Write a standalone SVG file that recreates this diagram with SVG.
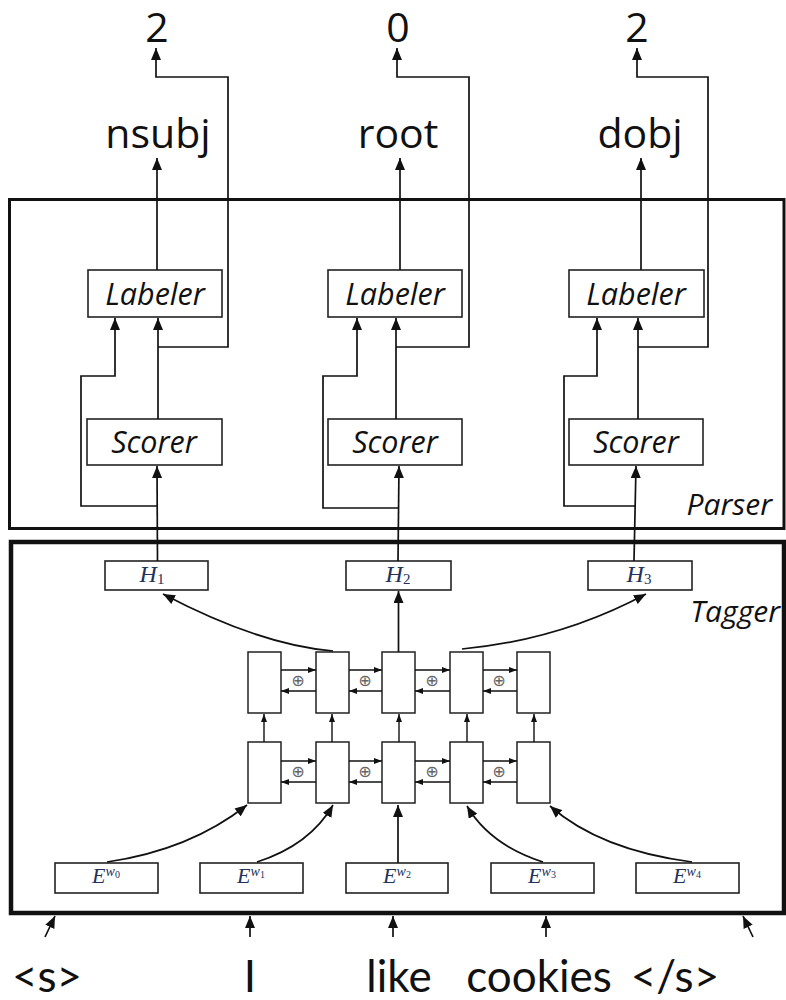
<svg xmlns="http://www.w3.org/2000/svg" width="786" height="1000" viewBox="0 0 786 1000">
  <style>
    .frame { fill: none; stroke: #111; }
    .box { fill: #fff; stroke: #222; stroke-width: 1.6; }
    .cell { fill: #fff; stroke: #222; stroke-width: 1.5; }
    .wire { fill: none; stroke: #111; stroke-width: 1.7; }
    .thin { fill: none; stroke: #111; stroke-width: 1.4; }
    .head { font-family: "Open Sans", "DejaVu Sans", sans-serif; font-size: 41px; fill: #111; text-anchor: middle; }
    .mod { font-family: "Open Sans", "DejaVu Sans", sans-serif; font-style: italic; font-size: 30.5px; fill: #111; text-anchor: middle; }
    .tag { font-family: "Open Sans", "DejaVu Sans", sans-serif; font-style: italic; font-size: 30px; fill: #111; text-anchor: end; }
    .math { font-family: "Liberation Serif", "DejaVu Serif", serif; font-style: italic; fill: #22325a; text-anchor: middle; }
    .word { font-family: Lato, "Open Sans", sans-serif; font-size: 44px; fill: #111; text-anchor: middle; }
    .oplus { font-family: "DejaVu Sans", sans-serif; font-size: 16px; fill: #666; text-anchor: middle; }
  </style>
  <defs>
    <marker id="ah" viewBox="0 0 12 10" refX="12" refY="5" markerWidth="12" markerHeight="10" orient="auto" markerUnits="userSpaceOnUse">
      <path d="M0,0 L12,5 L0,10 z" fill="#111"/>
    </marker>
    <marker id="ahs" viewBox="0 0 8 6" refX="8" refY="3" markerWidth="8" markerHeight="6" orient="auto" markerUnits="userSpaceOnUse">
      <path d="M0,0 L8,3 L0,6 z" fill="#111"/>
    </marker>
  </defs>

  <!-- outer frames -->
  <g id="parser">
    <rect class="frame" x="9.5" y="199.5" width="774.5" height="329" stroke-width="3"/>
    <text class="tag" x="772" y="515">Parser</text>
  </g>
  <g id="tagger">
    <rect class="frame" x="11" y="542" width="773" height="371" stroke-width="4.5"/>
    <text class="tag" x="780" y="622">Tagger</text>
  </g>

  <!-- head indices and relation labels -->
  <g id="heads">
    <text class="head" x="157" y="42">2</text>
    <text class="head" x="398" y="42">0</text>
    <text class="head" x="637" y="42">2</text>
  </g>
  <g id="relations">
    <text class="head" x="158" y="148">nsubj</text>
    <text class="head" x="398" y="148">root</text>
    <text class="head" x="640" y="148">dobj</text>
  </g>

  <!-- parser modules -->
  <g id="labeler1"><rect class="box" x="88" y="270" width="134" height="47"/><text class="mod" x="155" y="305">Labeler</text></g>
  <g id="labeler2"><rect class="box" x="328" y="270" width="134" height="47"/><text class="mod" x="395" y="305">Labeler</text></g>
  <g id="labeler3"><rect class="box" x="569" y="270" width="135" height="47"/><text class="mod" x="636" y="305">Labeler</text></g>
  <g id="scorer1"><rect class="box" x="87" y="419" width="135" height="46"/><text class="mod" x="154" y="453">Scorer</text></g>
  <g id="scorer2"><rect class="box" x="328" y="419" width="134" height="46"/><text class="mod" x="395" y="453">Scorer</text></g>
  <g id="scorer3"><rect class="box" x="569" y="419" width="134" height="46"/><text class="mod" x="636" y="453">Scorer</text></g>

  <!-- tagger outputs -->
  <g id="h1"><rect class="box" x="105" y="561" width="103" height="29"/><text class="math" x="152" y="582" font-size="24">H<tspan font-size="15" font-style="normal" dy="2">1</tspan></text></g>
  <g id="h2"><rect class="box" x="346" y="561" width="105" height="29"/><text class="math" x="398" y="582" font-size="24">H<tspan font-size="15" font-style="normal" dy="2">2</tspan></text></g>
  <g id="h3"><rect class="box" x="588" y="561" width="104" height="29"/><text class="math" x="639" y="582" font-size="24">H<tspan font-size="15" font-style="normal" dy="2">3</tspan></text></g>

  <!-- stacked BiLSTM cells -->
  <g id="lstm-top">
    <rect class="cell" x="248" y="652" width="33" height="61"/>
    <rect class="cell" x="316" y="652" width="33" height="61"/>
    <rect class="cell" x="382" y="652" width="33" height="61"/>
    <rect class="cell" x="450" y="652" width="33" height="61"/>
    <rect class="cell" x="517" y="652" width="33" height="61"/>
  </g>
  <g id="lstm-bottom">
    <rect class="cell" x="248" y="742" width="33" height="61"/>
    <rect class="cell" x="316" y="742" width="33" height="61"/>
    <rect class="cell" x="382" y="742" width="33" height="61"/>
    <rect class="cell" x="450" y="742" width="33" height="61"/>
    <rect class="cell" x="517" y="742" width="33" height="61"/>
  </g>
  <g id="concat">
    <text class="oplus" x="298" y="686">⊕</text>
    <text class="oplus" x="365" y="686">⊕</text>
    <text class="oplus" x="432" y="686">⊕</text>
    <text class="oplus" x="499" y="686">⊕</text>
    <text class="oplus" x="298" y="777">⊕</text>
    <text class="oplus" x="365" y="777">⊕</text>
    <text class="oplus" x="432" y="777">⊕</text>
    <text class="oplus" x="499" y="777">⊕</text>
  </g>

  <!-- word embeddings -->
  <g id="e0"><rect class="box" x="55" y="863" width="103" height="30"/><text class="math" x="106" y="883" font-size="22">E<tspan font-size="14" dy="-7">w</tspan><tspan font-size="10" font-style="normal" dy="2">0</tspan></text></g>
  <g id="e1"><rect class="box" x="200" y="863" width="103" height="30"/><text class="math" x="251" y="883" font-size="22">E<tspan font-size="14" dy="-7">w</tspan><tspan font-size="10" font-style="normal" dy="2">1</tspan></text></g>
  <g id="e2"><rect class="box" x="346" y="863" width="102" height="30"/><text class="math" x="397" y="883" font-size="22">E<tspan font-size="14" dy="-7">w</tspan><tspan font-size="10" font-style="normal" dy="2">2</tspan></text></g>
  <g id="e3"><rect class="box" x="491" y="863" width="103" height="30"/><text class="math" x="542" y="883" font-size="22">E<tspan font-size="14" dy="-7">w</tspan><tspan font-size="10" font-style="normal" dy="2">3</tspan></text></g>
  <g id="e4"><rect class="box" x="636" y="863" width="103" height="30"/><text class="math" x="687" y="883" font-size="22">E<tspan font-size="14" dy="-7">w</tspan><tspan font-size="10" font-style="normal" dy="2">4</tspan></text></g>

  <!-- input tokens -->
  <g id="tokens">
    <text class="word" x="47" y="992">&lt;s&gt;</text>
    <text class="word" x="250" y="992">I</text>
    <text class="word" x="399" y="992">like</text>
    <text class="word" x="539" y="992">cookies</text>
    <text class="word" x="675" y="992">&lt;/s&gt;</text>
  </g>

  <g id="connectors">
    <!-- labeler to relation label -->
    <path class="wire" d="M157 270 V158" marker-end="url(#ah)"/>
    <path class="wire" d="M400 270 V158" marker-end="url(#ah)"/>
    <path class="wire" d="M641 270 V158" marker-end="url(#ah)"/>
    <!-- scorer to labeler, with branch to head index -->
    <path class="wire" d="M158 419 V318" marker-end="url(#ah)"/>
    <path class="wire" d="M158 347 H228 V77 H156 V48" marker-end="url(#ah)"/>
    <path class="wire" d="M396 419 V318" marker-end="url(#ah)"/>
    <path class="wire" d="M396 347 H469 V77 H397 V48" marker-end="url(#ah)"/>
    <path class="wire" d="M638 419 V318" marker-end="url(#ah)"/>
    <path class="wire" d="M638 347 H708 V77 H637 V48" marker-end="url(#ah)"/>
    <!-- tagger state to scorer, with skip to labeler -->
    <path class="wire" d="M157.5 561 L157 466" marker-end="url(#ah)"/>
    <path class="wire" d="M157 506 H81 V376 H115 V318" marker-end="url(#ah)"/>
    <path class="wire" d="M398 561 L399 466" marker-end="url(#ah)"/>
    <path class="wire" d="M399 508 H323 V376 H357 V318" marker-end="url(#ah)"/>
    <path class="wire" d="M634 561 L636 466" marker-end="url(#ah)"/>
    <path class="wire" d="M636 506 H564 V376 H597 V318" marker-end="url(#ah)"/>
    <!-- BiLSTM top layer to outputs -->
    <path class="wire" d="M333 651 Q260 645 163 594" marker-end="url(#ah)"/>
    <path class="wire" d="M398.5 652 V591" marker-end="url(#ah)"/>
    <path class="wire" d="M462 649 Q560 640 646 594" marker-end="url(#ah)"/>
    <!-- recurrent links, top layer -->
    <path class="thin" d="M281 670 H316" marker-end="url(#ahs)"/>
    <path class="thin" d="M316 691 H281" marker-end="url(#ahs)"/>
    <path class="thin" d="M349 670 H382" marker-end="url(#ahs)"/>
    <path class="thin" d="M382 691 H349" marker-end="url(#ahs)"/>
    <path class="thin" d="M415 670 H450" marker-end="url(#ahs)"/>
    <path class="thin" d="M450 691 H415" marker-end="url(#ahs)"/>
    <path class="thin" d="M483 670 H517" marker-end="url(#ahs)"/>
    <path class="thin" d="M517 691 H483" marker-end="url(#ahs)"/>
    <!-- recurrent links, bottom layer -->
    <path class="thin" d="M281 761 H316" marker-end="url(#ahs)"/>
    <path class="thin" d="M316 782 H281" marker-end="url(#ahs)"/>
    <path class="thin" d="M349 761 H382" marker-end="url(#ahs)"/>
    <path class="thin" d="M382 782 H349" marker-end="url(#ahs)"/>
    <path class="thin" d="M415 761 H450" marker-end="url(#ahs)"/>
    <path class="thin" d="M450 782 H415" marker-end="url(#ahs)"/>
    <path class="thin" d="M483 761 H517" marker-end="url(#ahs)"/>
    <path class="thin" d="M517 782 H483" marker-end="url(#ahs)"/>
    <!-- layer to layer -->
    <path class="thin" d="M264 742 V714" marker-end="url(#ahs)"/>
    <path class="thin" d="M332 742 V714" marker-end="url(#ahs)"/>
    <path class="thin" d="M399 742 V714" marker-end="url(#ahs)"/>
    <path class="thin" d="M467 742 V714" marker-end="url(#ahs)"/>
    <path class="thin" d="M534 742 V714" marker-end="url(#ahs)"/>
    <!-- embeddings into bottom layer -->
    <path class="wire" d="M107 862 Q190 850 247 805" marker-end="url(#ah)"/>
    <path class="wire" d="M257 862 Q310 845 333 805" marker-end="url(#ah)"/>
    <path class="wire" d="M398 863 V805" marker-end="url(#ah)"/>
    <path class="wire" d="M543 862 Q490 845 467 806" marker-end="url(#ah)"/>
    <path class="wire" d="M692 862 Q600 850 550 806" marker-end="url(#ah)"/>
    <!-- tokens into tagger -->
    <path class="wire" d="M45 937 L55 916" marker-end="url(#ah)"/>
    <path class="wire" d="M250 937 V916" marker-end="url(#ah)"/>
    <path class="wire" d="M393 937 V916" marker-end="url(#ah)"/>
    <path class="wire" d="M546 937 V916" marker-end="url(#ah)"/>
    <path class="wire" d="M753 937 L743 916" marker-end="url(#ah)"/>
  </g>
</svg>
